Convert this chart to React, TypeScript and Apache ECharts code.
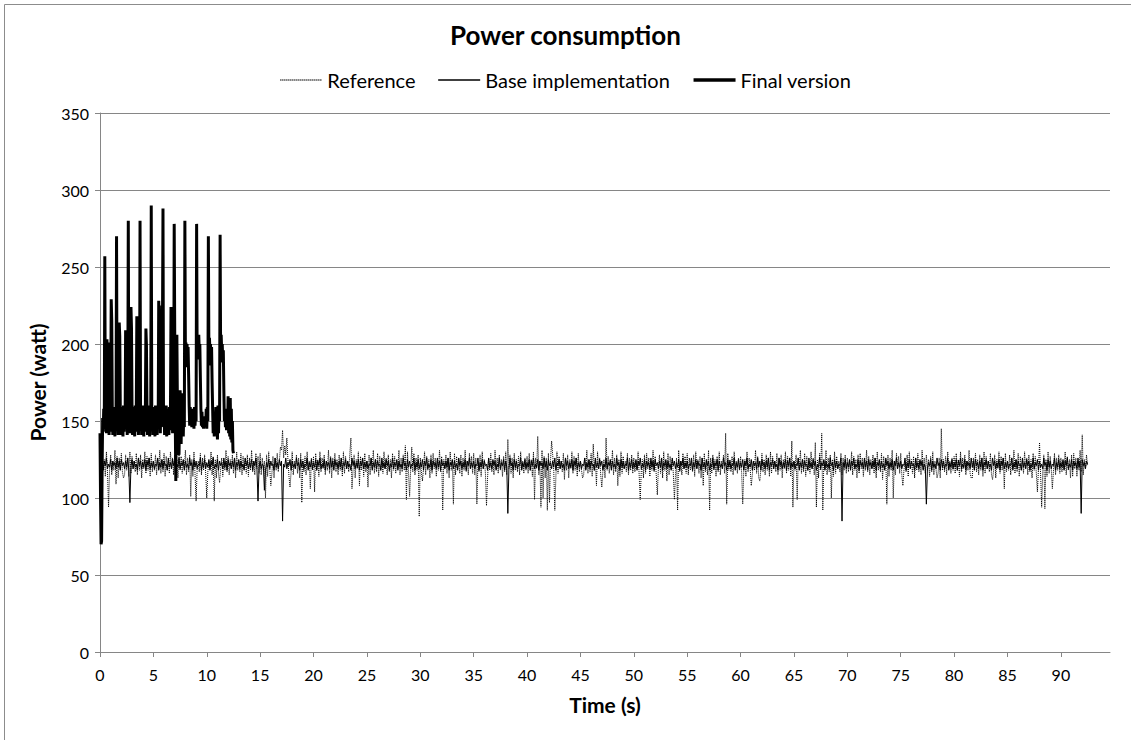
import React, { useEffect, useRef } from "react";
import * as echarts from "echarts";

const FONT = "Lato, 'Liberation Sans', sans-serif";

// Sampling steps of the recorded traces (seconds)
const REF_STEP = 0.1;
const BASE_STEP = 0.1;
const FINAL_STEP = 0.05;

const X_MAX = 94.6;
const Y_MAX = 350;

// Reference run (watt), one value every 0.1 s from t = 0 (one line = 5 s)
const referenceValues = [
  108,116,129,118,125,114,130,117,94,119, 128,115,124,118,131,109,127,113,126,119, 129,117,113,115,128,118,126,114,130,116, 127,119,124,117,129,115,126,118,128,113, 125,119,130,116,127,118,126,114,129,117,
  124,118,128,115,126,119,131,116,125,117, 129,114,127,118,124,116,130,119,126,115, 128,117,125,113,129,118,127,116,124,119, 131,115,126,117,128,101,125,114,130,116, 98,119,124,117,129,115,126,118,128,116,
  100,117,124,119,130,115,127,98,125,113, 128,116,110,119,126,114,124,118,131,117, 127,115,125,119,128,116,126,113,130,118, 124,117,129,115,127,119,125,116,128,114, 126,118,131,117,124,115,129,119,127,116,
  129,115,126,118,124,100,128,114,130,119, 108,116,127,113,126,118,129,117,124,133, 131,144,126,134,128,139,125,114,107,117, 130,115,124,119,128,116,126,113,129,97, 125,117,127,115,130,119,124,106,126,118,
  127,104,129,118,125,114,130,117,126,119, 128,115,124,118,131,116,127,113,126,119, 129,117,125,115,128,118,126,114,130,116, 127,119,124,117,129,139,106,118,128,113, 125,119,130,108,127,118,126,114,129,117,
  124,107,128,115,126,119,131,116,125,117, 129,114,127,118,124,116,130,119,126,115, 128,117,125,113,129,118,127,116,124,119, 131,115,126,117,128,118,134,99,130,116, 101,119,133,117,129,115,126,118,128,88,
  126,117,111,119,130,115,127,118,125,113, 128,116,129,119,126,114,124,118,131,117, 127,92,125,119,128,116,126,113,130,118, 124,96,129,115,127,119,125,116,128,114, 126,118,131,117,124,115,129,119,127,116,
  129,115,126,96,124,117,128,114,130,119, 125,116,95,113,126,118,129,117,124,115, 131,119,126,116,128,118,125,114,127,117, 130,115,138,119,128,116,126,113,129,118, 125,117,127,115,130,119,124,116,126,118,
  127,116,129,118,125,114,130,99,126,119, 140,115,124,94,131,100,127,113,126,92, 129,97,125,137,128,118,92,114,130,116, 127,119,124,117,129,112,126,118,128,113, 125,119,130,116,127,118,126,114,129,117,
  124,118,113,115,126,119,131,116,125,117, 129,114,135,118,124,108,130,119,126,115, 107,117,125,113,139,118,127,116,124,119, 131,115,126,117,128,108,125,114,130,116, 127,119,124,117,129,115,126,118,128,116,
  126,117,124,119,130,115,99,118,125,113, 128,116,129,119,126,114,124,118,131,117, 127,115,102,119,128,116,126,113,130,118, 124,111,129,115,127,119,125,116,99,114, 126,92,131,117,124,115,129,119,127,116,
  129,115,126,118,124,117,128,114,130,119, 125,116,127,113,126,108,129,117,124,115, 131,92,126,116,128,118,125,114,127,117, 130,115,124,119,128,116,142,96,129,118, 125,117,127,115,130,119,124,116,126,118,
  127,116,96,118,125,114,130,117,126,119, 108,115,124,118,131,116,127,113,111,119, 129,117,125,115,128,118,126,114,130,116, 127,119,124,117,129,115,126,118,128,113, 125,119,130,116,127,118,126,114,137,94,
  124,118,128,99,126,119,131,116,125,117, 129,114,127,118,124,116,130,119,126,115, 136,94,125,113,129,118,142,92,124,119, 131,115,126,117,128,100,125,114,130,116, 127,119,124,117,129,115,126,118,128,116,
  126,117,124,119,130,115,127,118,125,113, 128,116,129,119,126,114,124,118,131,117, 127,115,125,119,128,116,126,113,130,118, 124,117,129,112,127,119,125,96,128,114, 126,118,131,100,124,115,129,119,127,116,
  129,115,108,118,124,117,128,114,130,119, 125,116,127,113,126,118,129,117,124,115, 131,119,126,116,128,118,125,114,127,117, 130,115,124,119,113,116,126,113,145,118, 125,117,127,115,130,119,124,116,126,118,
  127,116,129,118,125,114,130,117,126,119, 128,115,124,118,131,116,113,113,126,119, 129,117,125,115,128,118,126,114,130,116, 127,119,124,117,129,115,112,118,128,113, 125,119,130,116,127,118,126,106,129,117,
  124,118,128,115,126,119,131,116,125,117, 129,114,127,118,124,116,130,119,126,115, 128,117,125,113,129,118,127,116,104,119, 136,115,94,117,128,93,125,114,130,116, 127,119,106,117,129,115,126,118,128,116,
  126,117,124,119,130,115,127,118,125,113, 128,114,129,119,126,114,124,118,131,117, 141,115,125,119,128,121,
];

// Base implementation (watt), one value every 0.1 s from t = 0 (one line = 5 s)
const baseValues = [
  105,120,125,118,124,121,126,119,122,120, 125,118,124,121,123,119,126,120,124,118, 125,121,123,119,124,120,126,118,97,121, 125,119,124,120,122,118,126,121,124,119, 123,120,125,118,124,121,126,119,123,120,
  124,119,122,121,126,118,123,120,125,119, 124,121,122,118,126,120,123,119,125,121, 124,118,122,120,126,119,123,121,125,118, 124,120,122,119,126,121,123,118,125,120, 124,119,122,121,126,118,123,120,125,119,
  123,120,125,118,124,121,126,119,122,120, 125,118,124,121,123,119,126,120,124,118, 125,121,123,119,124,120,126,118,123,121, 125,119,124,120,122,118,126,121,124,119, 123,120,125,118,124,121,126,119,98,120,
  124,119,122,121,105,118,123,120,125,119, 124,121,122,118,126,120,123,119,125,121, 124,85,122,120,126,119,123,121,125,118, 124,120,122,119,126,121,123,118,125,120, 124,119,122,121,126,118,123,120,125,119,
  123,120,125,118,124,121,126,119,122,120, 125,118,124,121,123,119,126,120,124,118, 125,121,123,119,124,120,126,118,123,121, 125,119,124,120,122,118,126,121,124,119, 123,120,125,118,124,121,126,119,123,120,
  124,119,122,121,126,118,123,120,125,119, 124,121,122,118,126,120,123,119,125,121, 124,118,122,120,126,119,123,121,125,118, 124,120,122,119,126,121,123,118,125,120, 124,119,122,121,126,118,123,120,125,119,
  123,120,125,118,124,121,126,119,122,120, 125,118,124,121,123,119,126,120,124,118, 125,121,123,119,124,120,126,118,123,121, 125,119,124,120,122,118,126,121,124,119, 123,120,125,118,124,121,126,119,123,120,
  124,119,122,121,126,118,123,120,125,119, 124,121,122,118,126,120,123,119,125,121, 124,118,122,120,126,119,123,121,125,118, 124,120,90,119,126,121,123,118,125,120, 124,119,122,121,126,118,123,120,125,119,
  123,120,125,118,124,121,126,119,122,120, 125,118,124,121,123,119,126,120,124,118, 125,121,123,119,124,120,126,118,123,121, 125,119,124,120,122,118,126,121,124,119, 123,120,125,118,124,121,126,119,123,120,
  124,119,122,121,126,118,123,120,125,119, 124,121,122,118,126,120,123,119,125,121, 124,118,122,120,126,119,123,121,125,118, 124,120,122,119,126,121,123,118,125,120, 124,119,122,121,126,118,123,120,125,119,
  123,120,125,118,124,121,126,119,122,120, 125,118,124,121,123,119,126,120,124,118, 125,121,123,119,124,120,126,118,123,121, 125,119,124,120,122,118,126,121,124,119, 123,120,125,118,124,121,126,119,123,120,
  124,119,122,121,126,118,123,120,125,119, 124,121,122,118,126,120,123,119,125,121, 124,118,122,120,126,119,123,121,125,118, 124,120,122,119,126,121,123,118,125,120, 124,119,122,121,126,118,123,120,125,119,
  123,120,125,118,124,121,126,119,122,120, 125,118,124,121,123,119,126,120,124,118, 125,121,123,119,124,120,126,118,123,121, 125,119,124,120,122,118,126,121,124,119, 123,120,125,118,124,121,126,119,123,120,
  124,119,122,121,126,118,123,120,125,119, 124,121,122,118,126,120,123,119,125,121, 124,118,122,120,126,119,123,121,125,118, 124,120,122,119,126,121,123,118,125,120, 124,119,122,121,126,85,123,120,125,119,
  123,120,125,118,124,121,126,119,122,120, 125,118,124,121,123,119,126,120,124,118, 125,121,123,119,124,120,126,118,123,121, 125,119,124,120,122,118,126,121,124,119, 123,120,125,118,124,121,126,119,123,120,
  124,119,122,121,126,118,123,120,125,119, 124,121,122,118,126,120,123,119,125,121, 124,118,122,120,96,119,123,121,125,118, 124,120,122,119,126,121,123,118,125,120, 124,119,122,121,126,118,123,120,125,119,
  123,120,125,118,124,121,126,119,122,120, 125,118,124,121,123,119,126,120,124,118, 125,121,123,119,124,120,126,118,123,121, 125,119,124,120,122,118,126,121,124,119, 123,120,125,118,124,121,126,119,123,120,
  124,119,122,121,126,118,123,120,125,119, 124,121,122,118,126,120,123,119,125,121, 124,118,122,120,126,119,123,121,125,118, 124,120,122,119,126,121,123,118,125,120, 124,119,122,121,126,118,123,120,125,119,
  123,120,125,118,124,121,126,119,122,120, 125,118,124,121,123,119,126,120,124,90, 125,121,123,119,124,122,
];

// Final version (watt), one value every 0.05 s from t = 0 (one line = 1 s)
const finalValues = [
  142,100,70,72,120,152,143,158,145,257, 150,159,142,203,192,201,160,141,158,143,
  160,229,215,158,141,159,142,157,140,159, 146,270,150,158,141,160,214,205,158,141,
  159,142,158,140,160,143,157,145,209,200, 158,141,159,280,148,158,142,160,224,210,
  157,141,159,142,158,140,160,143,157,218, 205,159,141,158,144,280,150,159,141,158,
  142,160,140,159,143,158,210,199,157,141, 159,142,160,140,158,145,290,152,158,141,
  159,142,158,140,160,143,157,141,159,145, 228,212,158,142,160,146,225,208,288,150,
  158,141,159,142,160,140,158,143,157,141, 159,144,158,224,210,159,142,158,145,278,
  206,150,111,158,206,160,142,158,128,150, 170,162,135,168,142,163,140,158,146,280,
  190,201,185,200,192,198,180,160,147,159, 148,157,146,158,148,156,145,159,147,155,
  150,278,190,205,196,206,194,200,178,158, 147,156,146,152,145,150,147,153,146,158,
  145,159,150,270,192,204,195,200,186,198, 175,158,142,156,140,152,143,159,141,150,
  138,160,142,158,150,271,190,206,195,200, 188,196,170,150,158,146,157,144,158,145,
  166,142,160,140,165,138,158,136,150,131, 129,
];

const seriesNames = ["Reference", "Base implementation", "Final version"];

function toPairs(values: number[], step: number) {
  return values.map((v, i) => [Math.round(i * step * 1000) / 1000, v]);
}

export default function App() {
  const ref = useRef<HTMLDivElement>(null);

  useEffect(() => {
    if (!ref.current) return;
    const chart = echarts.init(ref.current, null, { renderer: "svg" });
    const axisGray = "#868686";
    chart.setOption({
      animation: false,
      backgroundColor: "#ffffff",
      textStyle: { fontFamily: FONT },
      title: {
        text: "Power consumption",
        left: "center",
        top: 17,
        textStyle: { fontFamily: FONT, fontSize: 26, fontWeight: "bold", color: "#000" },
      },
      legend: {
        top: 65,
        left: "center",
        itemWidth: 42,
        itemHeight: 11,
        itemGap: 22,
        itemStyle: { opacity: 0 },
        lineStyle: { width: "inherit" },
        textStyle: { fontFamily: FONT, fontSize: 20, color: "#000" },
        data: [
          { name: seriesNames[0], lineStyle: { width: 1.4 } },
          { name: seriesNames[1], lineStyle: { width: 1.4 } },
          { name: seriesNames[2], lineStyle: { width: 3.5 } },
        ],
      },
      graphic: [
        {
          type: "rect",
          silent: true,
          shape: { x: 4.5, y: 4.5, width: 1140, height: 760 },
          style: { fill: "none", stroke: "#8c8c8c", lineWidth: 1 },
        },
      ],
      grid: { left: 100, right: 21, top: 113, bottom: 88, containLabel: false },
      xAxis: {
        type: "value",
        min: 0,
        max: X_MAX,
        interval: 5,
        name: "Time (s)",
        nameLocation: "middle",
        nameGap: 42,
        nameTextStyle: { fontFamily: FONT, fontSize: 21, fontWeight: "bold", color: "#000" },
        axisLine: { show: true, onZero: false, lineStyle: { color: axisGray, width: 1 } },
        axisTick: { show: true, length: 5, lineStyle: { color: axisGray } },
        axisLabel: { color: "#000", fontSize: 16, margin: 14, showMaxLabel: false, fontFamily: FONT },
        splitLine: { show: false },
      },
      yAxis: {
        type: "value",
        min: 0,
        max: Y_MAX,
        interval: 50,
        name: "Power (watt)",
        nameLocation: "middle",
        nameGap: 52,
        nameRotate: 90,
        nameTextStyle: { fontFamily: FONT, fontSize: 21, fontWeight: "bold", color: "#000" },
        axisLine: { show: true, lineStyle: { color: axisGray, width: 1 } },
        axisTick: { show: true, length: 5, lineStyle: { color: axisGray } },
        axisLabel: { color: "#000", fontSize: 16, margin: 11, fontFamily: FONT },
        splitLine: { show: true, lineStyle: { color: axisGray, width: 1 } },
      },
      series: [
        {
          name: seriesNames[0],
          type: "line",
          symbol: "none",
          showSymbol: false,
          data: toPairs(referenceValues, REF_STEP),
          lineStyle: { color: "#000", width: 1, type: [1, 1] },
          itemStyle: { color: "#000" },
          z: 2,
        },
        {
          name: seriesNames[1],
          type: "line",
          symbol: "none",
          showSymbol: false,
          data: toPairs(baseValues, BASE_STEP),
          lineStyle: { color: "#000", width: 1 },
          itemStyle: { color: "#000" },
          z: 3,
        },
        {
          name: seriesNames[2],
          type: "line",
          symbol: "none",
          showSymbol: false,
          data: toPairs(finalValues, FINAL_STEP),
          lineStyle: { color: "#000", width: 3 },
          itemStyle: { color: "#000" },
          z: 4,
        },
      ],
    });
    return () => chart.dispose();
  }, []);

  return (
    <div
      ref={ref}
      style={{ position: "absolute", left: 0, top: 0, width: 1131, height: 740, background: "#fff" }}
    />
  );
}
